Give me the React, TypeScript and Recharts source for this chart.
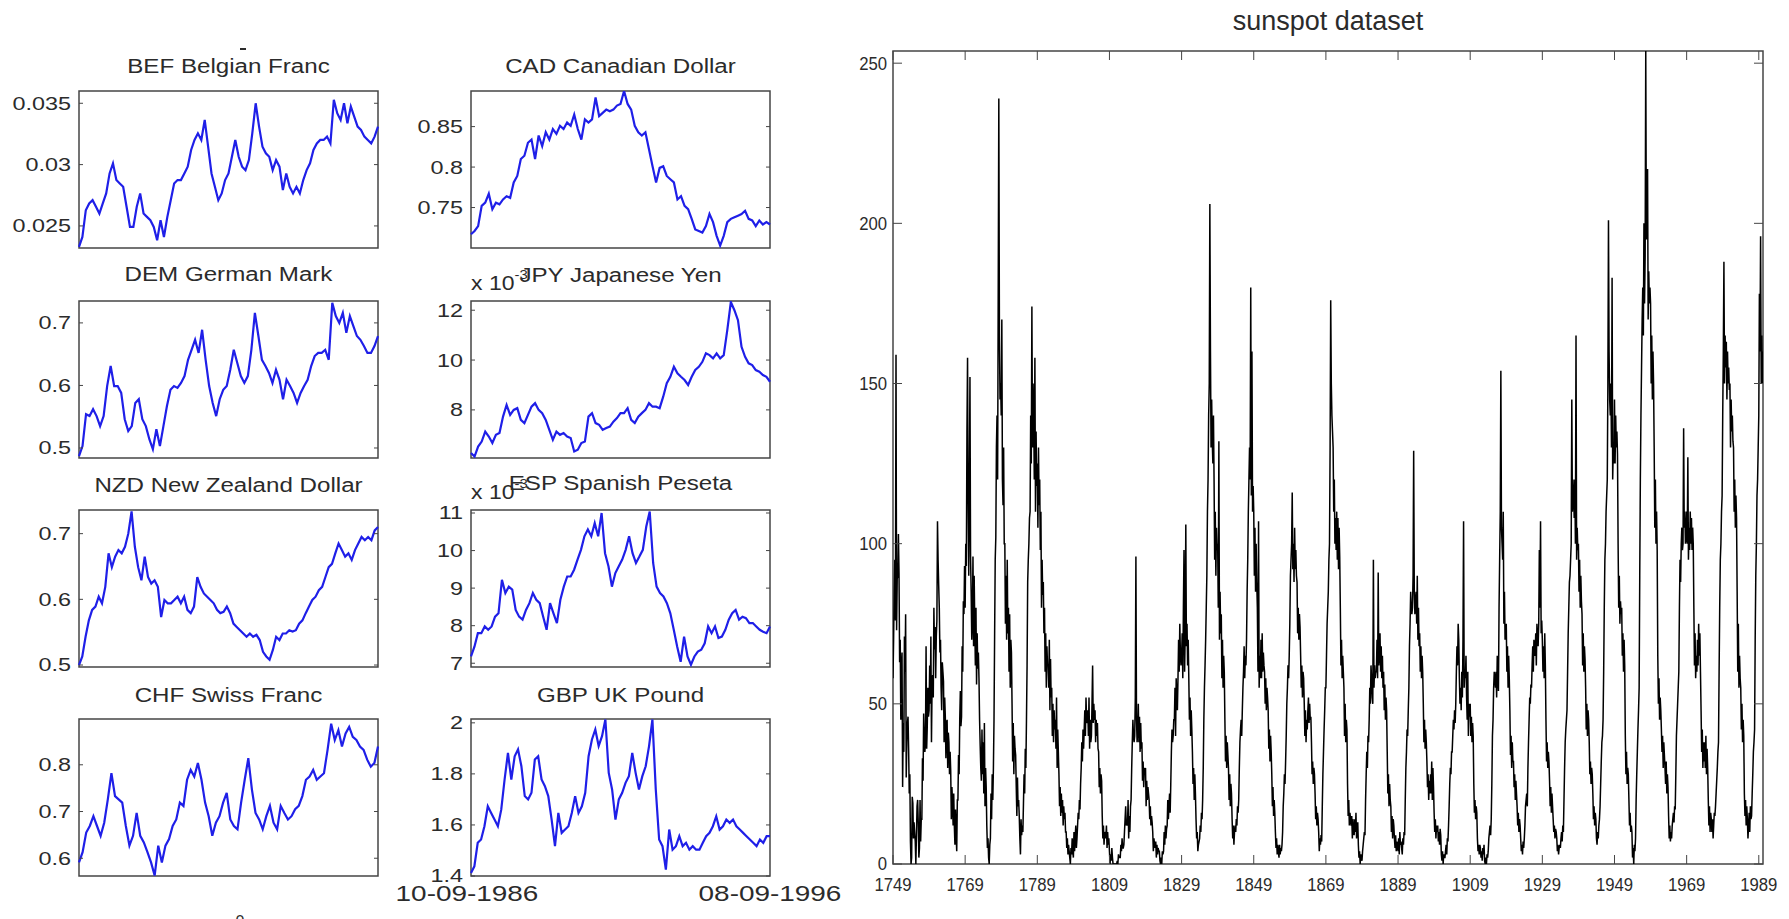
import React from "react";
import { LineChart, Line, XAxis, YAxis, ReferenceArea } from "recharts";

// Daily exchange rates against the US dollar, 10-09-1986 .. 08-09-1996,
// thinned to about one reading every five weeks.
const befRate = [
  0.02329, 0.0241, 0.02628, 0.02683, 0.0271, 0.02656, 0.02601, 0.02683, 0.02765, 0.02928,
  0.0301, 0.02874, 0.02846, 0.02819, 0.02656, 0.02492, 0.02492, 0.02656, 0.02765, 0.02601,
  0.02574, 0.02547, 0.02492, 0.02383, 0.02547, 0.0241, 0.02574, 0.0271, 0.02846, 0.02874,
  0.02874, 0.02928, 0.02983, 0.03119, 0.03201, 0.03255, 0.03201, 0.03364, 0.03146, 0.02928,
  0.02819, 0.0271, 0.02765, 0.02874, 0.02928, 0.03064, 0.03201, 0.03064, 0.02983, 0.02955,
  0.03037, 0.03255, 0.035, 0.0331, 0.03146, 0.03092, 0.03064, 0.02955, 0.03037, 0.02983,
  0.02792, 0.02928, 0.02819, 0.02765, 0.02819, 0.02765, 0.02874, 0.02955, 0.0301, 0.03119,
  0.03173, 0.03201, 0.03201, 0.03228, 0.03173, 0.03528, 0.03419, 0.03364, 0.035, 0.03337,
  0.03473, 0.03391, 0.0331, 0.03282, 0.03228, 0.03201, 0.03173, 0.03228, 0.0331,
];
const cadRate = [
  0.717, 0.721, 0.727, 0.752, 0.756, 0.767, 0.748, 0.756, 0.754, 0.76, 0.764, 0.762, 0.781,
  0.789, 0.81, 0.814, 0.83, 0.834, 0.81, 0.839, 0.826, 0.843, 0.834, 0.847, 0.841, 0.851,
  0.847, 0.855, 0.851, 0.865, 0.847, 0.834, 0.859, 0.855, 0.859, 0.886, 0.863, 0.867, 0.871,
  0.869, 0.871, 0.876, 0.878, 0.894, 0.878, 0.871, 0.851, 0.843, 0.839, 0.843, 0.822, 0.801,
  0.781, 0.799, 0.801, 0.789, 0.785, 0.781, 0.76, 0.764, 0.752, 0.748, 0.736, 0.723, 0.721,
  0.719, 0.727, 0.742, 0.732, 0.715, 0.703, 0.715, 0.732, 0.736, 0.738, 0.74, 0.742, 0.746,
  0.736, 0.734, 0.727, 0.734, 0.729, 0.732, 0.729,
];
const demRate = [
  0.487, 0.503, 0.554, 0.551, 0.562, 0.551, 0.535, 0.551, 0.599, 0.631, 0.599, 0.599, 0.588,
  0.546, 0.527, 0.535, 0.572, 0.578, 0.546, 0.535, 0.514, 0.498, 0.53, 0.503, 0.535, 0.567,
  0.593, 0.599, 0.596, 0.604, 0.615, 0.641, 0.657, 0.673, 0.652, 0.689, 0.641, 0.599, 0.572,
  0.551, 0.578, 0.593, 0.599, 0.625, 0.657, 0.636, 0.615, 0.604, 0.615, 0.657, 0.716, 0.679,
  0.641, 0.631, 0.62, 0.604, 0.625, 0.609, 0.578, 0.609, 0.599, 0.588, 0.572, 0.588, 0.599,
  0.609, 0.631, 0.647, 0.652, 0.652, 0.657, 0.641, 0.732, 0.711, 0.7, 0.716, 0.684, 0.711,
  0.695, 0.679, 0.673, 0.663, 0.652, 0.652, 0.663, 0.679,
];
// yen rate is shown in units of 1e-3
const jpyRateMilli = [
  6.27, 6.13, 6.53, 6.73, 7.13, 6.93, 6.67, 7.0, 7.07, 7.73, 8.2, 7.8, 8.0, 8.07, 7.6, 7.47,
  7.8, 8.13, 8.27, 8.0, 7.87, 7.6, 7.2, 6.8, 7.13, 7.0, 7.07, 6.93, 6.87, 6.33, 6.4, 6.67,
  6.73, 7.73, 7.87, 7.47, 7.4, 7.2, 7.27, 7.33, 7.53, 7.67, 7.87, 7.87, 8.07, 7.6, 7.47, 7.73,
  7.87, 8.0, 8.27, 8.13, 8.13, 8.07, 8.53, 9.07, 9.33, 9.73, 9.47, 9.33, 9.2, 9.0, 9.33, 9.6,
  9.73, 9.93, 10.27, 10.2, 10.07, 10.27, 10.07, 10.2, 11.2, 12.33, 12.0, 11.6, 10.53, 10.13,
  9.87, 9.8, 9.6, 9.53, 9.4, 9.33, 9.13,
];
const nzdRate = [
  0.5, 0.513, 0.543, 0.568, 0.584, 0.589, 0.604, 0.594, 0.619, 0.67, 0.649, 0.665, 0.675, 0.67,
  0.68, 0.7, 0.734, 0.68, 0.649, 0.629, 0.665, 0.634, 0.624, 0.629, 0.619, 0.573, 0.599, 0.594,
  0.594, 0.599, 0.604, 0.594, 0.604, 0.584, 0.579, 0.589, 0.634, 0.619, 0.609, 0.604, 0.599,
  0.594, 0.584, 0.579, 0.581, 0.589, 0.579, 0.563, 0.558, 0.553, 0.548, 0.543, 0.548, 0.543,
  0.546, 0.538, 0.52, 0.513, 0.508, 0.523, 0.543, 0.538, 0.548, 0.548, 0.553, 0.551, 0.553,
  0.563, 0.568, 0.579, 0.589, 0.599, 0.604, 0.614, 0.619, 0.634, 0.649, 0.654, 0.67, 0.685,
  0.675, 0.665, 0.67, 0.66, 0.675, 0.685, 0.695, 0.69, 0.695, 0.69, 0.705, 0.71,
];
// peseta rate is shown in units of 1e-3
const espRateMilli = [
  7.18, 7.44, 7.8, 7.8, 7.98, 7.89, 7.98, 8.24, 8.33, 9.22, 8.87, 9.04, 8.96, 8.42, 8.24, 8.16,
  8.42, 8.6, 8.87, 8.69, 8.6, 8.24, 7.89, 8.6, 8.33, 8.07, 8.69, 9.04, 9.31, 9.31, 9.49, 9.76,
  10.02, 10.38, 10.56, 10.38, 10.73, 10.38, 11.0, 9.93, 9.58, 9.04, 9.4, 9.58, 9.76, 10.02,
  10.38, 9.93, 9.67, 9.84, 10.02, 10.64, 11.04, 9.67, 9.04, 8.87, 8.78, 8.6, 8.33, 7.89, 7.44,
  7.04, 7.71, 7.18, 6.96, 7.18, 7.31, 7.36, 7.53, 7.98, 7.8, 7.98, 7.67, 7.71, 7.89, 8.16, 8.33,
  8.42, 8.16, 8.24, 8.2, 8.07, 8.07, 7.98, 7.89, 7.84, 7.8, 7.98,
];
const chfRate = [
  0.591, 0.613, 0.655, 0.669, 0.69, 0.669, 0.648, 0.676, 0.726, 0.782, 0.733, 0.726, 0.719,
  0.669, 0.627, 0.648, 0.697, 0.648, 0.634, 0.613, 0.591, 0.563, 0.627, 0.591, 0.627, 0.641,
  0.669, 0.683, 0.719, 0.712, 0.768, 0.789, 0.775, 0.804, 0.768, 0.719, 0.69, 0.648, 0.676,
  0.69, 0.719, 0.74, 0.683, 0.669, 0.662, 0.719, 0.768, 0.814, 0.747, 0.697, 0.683, 0.662,
  0.69, 0.712, 0.676, 0.662, 0.712, 0.697, 0.683, 0.69, 0.705, 0.712, 0.733, 0.768, 0.775,
  0.789, 0.768, 0.775, 0.782, 0.832, 0.888, 0.853, 0.874, 0.839, 0.867, 0.881, 0.86, 0.853,
  0.839, 0.832, 0.811, 0.796, 0.804, 0.839,
];
const gbpRate = [
  1.412, 1.438, 1.53, 1.543, 1.595, 1.673, 1.647, 1.621, 1.595, 1.66, 1.778, 1.882, 1.778,
  1.869, 1.896, 1.83, 1.713, 1.7, 1.726, 1.856, 1.869, 1.778, 1.752, 1.713, 1.621, 1.517,
  1.647, 1.569, 1.582, 1.595, 1.647, 1.713, 1.647, 1.673, 1.726, 1.869, 1.935, 1.974, 1.909,
  1.948, 2.013, 1.804, 1.739, 1.621, 1.7, 1.726, 1.765, 1.791, 1.882, 1.804, 1.739, 1.791,
  1.83, 1.909, 2.013, 1.739, 1.543, 1.517, 1.425, 1.582, 1.503, 1.517, 1.556, 1.517, 1.53,
  1.503, 1.517, 1.503, 1.503, 1.53, 1.556, 1.569, 1.595, 1.634, 1.582, 1.595, 1.621, 1.608,
  1.621, 1.595, 1.582, 1.569, 1.556, 1.543, 1.53, 1.517, 1.543, 1.53, 1.556, 1.556,
];

const befTicks = [0.025, 0.03, 0.035];
const cadTicks = [0.75, 0.8, 0.85];
const demTicks = [0.5, 0.6, 0.7];
const jpyTicks = [8, 10, 12];
const nzdTicks = [0.5, 0.6, 0.7];
const espTicks = [7, 8, 9, 10, 11];
const chfTicks = [0.6, 0.7, 0.8];
const gbpTicks = [1.4, 1.6, 1.8, 2];
const dateLabels = ["10-09-1986", "08-09-1996"];

// Monthly sunspot numbers, every second month, one row per year from 1749.
const sunspots1749 = [
  [58, 70, 85, 95, 76, 159], [73, 89, 90, 103, 91, 63], [70, 45, 61, 66, 24, 44],
  [35, 71, 60, 78, 27, 38], [44, 46, 36, 22, 28, 7], [0, 2, 21, 19, 8, 13],
  [10, 7, 0, 9, 18, 20], [13, 2, 5, 20, 7, 14], [14, 33, 26, 47, 40, 35],
  [38, 68, 36, 43, 55, 46], [48, 62, 50, 71, 38, 56], [59, 52, 80, 67, 74, 58],
  [71, 76, 107, 95, 87, 80], [66, 70, 55, 48, 63, 60], [57, 38, 52, 46, 33, 44],
  [45, 30, 41, 38, 28, 35], [29, 14, 24, 19, 12, 22], [12, 6, 17, 9, 4, 20],
  [20, 34, 28, 45, 54, 43], [46, 68, 60, 82, 78, 93], [80, 100, 93, 135, 158, 112],
  [90, 117, 152, 96, 85, 70], [76, 96, 68, 90, 75, 62], [80, 56, 72, 61, 66, 58],
  [45, 37, 30, 26, 42, 28], [38, 22, 44, 18, 30, 24], [12, 5, 8, 2, 0, 6],
  [8, 22, 14, 28, 20, 30], [45, 71, 95, 102, 130, 140], [120, 178, 239, 165, 145, 150],
  [140, 170, 120, 112, 130, 100], [100, 75, 90, 70, 95, 72], [80, 60, 78, 55, 70, 66],
  [50, 32, 44, 28, 40, 36], [34, 24, 15, 27, 18, 20], [15, 8, 3, 14, 9, 12],
  [10, 19, 28, 22, 36, 30], [45, 62, 88, 95, 100, 108], [110, 140, 125, 174, 130, 150],
  [140, 120, 158, 110, 135, 118], [125, 105, 130, 112, 120, 98],
];
const sunspots1790 = [
  [110, 80, 95, 84, 88, 72], [80, 60, 72, 55, 68, 62], [62, 55, 70, 48, 64, 52],
  [55, 40, 50, 38, 48, 42], [45, 36, 52, 30, 42, 35], [28, 18, 24, 15, 22, 16],
  [20, 12, 18, 14, 16, 10], [10, 5, 8, 3, 6, 4], [2, 0, 5, 3, 8, 4],
  [2, 10, 4, 8, 12, 5], [8, 12, 16, 14, 20, 17], [25, 30, 38, 32, 42, 36],
  [42, 48, 40, 52, 45, 44], [48, 40, 52, 36, 45, 38], [40, 50, 62, 44, 50, 45],
  [48, 38, 45, 40, 44, 36], [35, 24, 30, 22, 28, 26], [15, 8, 12, 6, 10, 9],
  [8, 12, 5, 10, 6, 8], [4, 0, 3, 1, 5, 2], [0, 0, 0, 0, 0, 0],
  [0, 1, 0, 3, 2, 2], [2, 6, 4, 8, 5, 5], [6, 10, 14, 18, 12, 13],
  [12, 20, 8, 15, 10, 18], [20, 30, 38, 45, 40, 38], [40, 52, 96, 45, 38, 42],
  [50, 38, 46, 35, 44, 36], [38, 26, 32, 24, 30, 28], [30, 18, 26, 20, 24, 22],
  [20, 14, 18, 12, 15, 13], [10, 4, 8, 6, 5, 7], [2, 6, 3, 5, 4, 4],
  [1, 0, 2, 0, 4, 3], [4, 10, 6, 12, 8, 11], [12, 20, 14, 18, 22, 16],
  [25, 35, 42, 38, 40, 45], [45, 55, 40, 58, 52, 48], [58, 70, 60, 75, 66, 62],
  [65, 72, 58, 80, 98, 60], [72, 106, 68, 75, 62, 70], [58, 45, 52, 40, 48, 42],
  [35, 25, 30, 20, 28, 22], [14, 8, 10, 4, 6, 7], [8, 12, 10, 16, 14, 20],
  [30, 45, 55, 62, 70, 80], [90, 110, 120, 140, 150, 206], [160, 130, 145, 132, 125, 140],
  [120, 95, 110, 90, 105, 98], [100, 80, 132, 70, 85, 72],
];
const sunspots1840 = [
  [78, 58, 70, 55, 65, 60], [45, 32, 40, 30, 38, 34], [30, 20, 28, 18, 25, 22],
  [14, 8, 12, 6, 10, 12], [10, 14, 12, 18, 16, 20], [30, 38, 42, 45, 40, 48],
  [55, 60, 68, 58, 65, 62], [70, 85, 95, 110, 120, 130], [120, 180, 115, 160, 110, 118],
  [110, 90, 105, 85, 100, 88], [80, 60, 107, 55, 65, 58], [70, 58, 72, 60, 66, 62],
  [60, 50, 58, 48, 55, 52], [48, 36, 42, 32, 40, 35], [28, 18, 24, 15, 20, 16],
  [10, 5, 8, 3, 6, 4], [2, 6, 3, 5, 4, 6], [10, 18, 22, 28, 25, 32],
  [40, 50, 55, 62, 58, 65], [75, 90, 95, 100, 116, 92], [100, 88, 105, 92, 98, 90],
  [88, 72, 80, 70, 78, 74], [65, 55, 62, 52, 60, 58], [50, 40, 48, 38, 45, 42],
  [48, 52, 44, 50, 45, 46], [38, 28, 32, 25, 30, 28], [22, 14, 18, 12, 16, 14],
  [10, 4, 8, 6, 9, 7], [18, 28, 35, 42, 48, 55], [55, 65, 75, 80, 85, 95],
  [100, 130, 176, 150, 140, 135], [130, 110, 120, 100, 108, 98], [110, 95, 108, 92, 105, 96],
  [80, 62, 70, 58, 65, 60], [55, 40, 50, 38, 45, 42], [25, 15, 20, 12, 16, 14],
  [12, 15, 8, 14, 10, 9], [14, 10, 16, 8, 12, 13], [6, 2, 4, 0, 3, 2],
  [1, 4, 6, 8, 10, 9], [20, 28, 35, 30, 40, 38], [45, 55, 50, 62, 58, 52],
  [50, 95, 55, 62, 58, 60], [60, 70, 58, 91, 62, 66], [72, 60, 68, 58, 65, 55],
  [60, 48, 56, 45, 52, 48], [35, 22, 28, 18, 25, 20], [18, 10, 15, 8, 14, 12],
  [8, 5, 9, 4, 7, 6], [4, 8, 3, 10, 6, 7],
];
const sunspots1890 = [
  [5, 3, 8, 6, 10, 9], [20, 30, 35, 42, 40, 48], [55, 68, 75, 85, 80, 78],
  [80, 90, 129, 85, 78, 82], [85, 75, 90, 70, 80, 68], [72, 60, 68, 58, 65, 60],
  [50, 38, 45, 36, 42, 38], [32, 24, 28, 20, 26, 22], [28, 22, 32, 20, 30, 24],
  [16, 10, 14, 8, 12, 10], [12, 7, 10, 6, 11, 9], [3, 1, 4, 0, 3, 2],
  [2, 4, 6, 3, 8, 7], [12, 18, 25, 30, 28, 35], [35, 40, 45, 42, 48, 44],
  [50, 60, 68, 62, 75, 70], [58, 50, 55, 48, 60, 52], [70, 107, 55, 60, 58, 65],
  [52, 45, 60, 40, 50, 46], [50, 40, 46, 38, 44, 40], [25, 16, 20, 14, 18, 16],
  [8, 4, 6, 3, 6, 5], [2, 4, 1, 5, 3, 6], [1, 0, 2, 0, 3, 2],
  [4, 8, 10, 12, 9, 14], [25, 40, 45, 55, 60, 58], [55, 60, 52, 65, 58, 54],
  [80, 95, 110, 154, 105, 100], [95, 110, 75, 85, 70, 72], [75, 60, 68, 55, 65, 58],
  [48, 34, 40, 30, 38, 32], [32, 24, 28, 20, 26, 22], [18, 12, 16, 10, 14, 12],
  [8, 4, 6, 3, 7, 5], [8, 12, 18, 20, 22, 18], [30, 38, 45, 52, 50, 56],
  [55, 62, 68, 60, 70, 66], [65, 72, 62, 75, 70, 68], [75, 98, 80, 107, 72, 76],
  [70, 60, 68, 58, 72, 62], [45, 32, 38, 30, 35, 32], [26, 18, 24, 16, 22, 18],
  [14, 10, 12, 8, 11, 10], [8, 4, 6, 3, 5, 6], [5, 8, 10, 7, 12, 10],
  [20, 30, 38, 42, 45, 48], [60, 72, 80, 88, 90, 95], [100, 145, 110, 120, 115, 108],
  [120, 100, 165, 95, 105, 98], [100, 85, 95, 80, 90, 82],
];
const sunspots1940 = [
  [78, 62, 72, 60, 68, 64], [55, 42, 50, 40, 48, 45], [38, 28, 32, 25, 30, 28],
  [22, 14, 18, 12, 16, 14], [8, 6, 10, 8, 12, 14], [18, 25, 32, 38, 40, 45],
  [60, 80, 95, 100, 110, 115], [120, 150, 201, 160, 145, 140], [150, 130, 183, 120, 130, 125],
  [145, 125, 140, 130, 135, 128], [100, 80, 90, 75, 82, 78], [80, 65, 72, 60, 70, 62],
  [40, 28, 35, 25, 30, 28], [20, 12, 16, 10, 12, 10], [2, 5, 0, 6, 4, 8],
  [20, 28, 35, 42, 48, 55], [90, 120, 140, 155, 170, 180], [165, 200, 175, 190, 254, 195],
  [200, 217, 170, 185, 175, 180], [175, 150, 165, 145, 160, 150], [130, 105, 120, 100, 110, 98],
  [65, 50, 58, 45, 52, 48], [42, 35, 40, 30, 38, 34], [30, 25, 32, 22, 28, 24],
  [15, 8, 12, 7, 10, 8], [12, 14, 16, 13, 18, 17], [28, 40, 45, 50, 55, 60],
  [80, 95, 88, 100, 105, 98], [100, 136, 105, 110, 100, 102], [110, 100, 127, 95, 105, 98],
  [110, 100, 108, 98, 105, 100], [80, 62, 72, 58, 65, 60], [70, 62, 75, 65, 72, 60],
  [48, 35, 42, 30, 38, 32], [38, 30, 40, 28, 36, 30], [20, 12, 18, 10, 16, 14],
  [10, 14, 8, 12, 16, 15], [18, 22, 26, 30, 35, 38], [60, 80, 95, 100, 110, 115],
  [140, 160, 188, 150, 165, 155], [163, 145, 160, 150, 155, 148], [150, 130, 145, 135, 140, 132],
  [130, 110, 120, 105, 115, 108], [85, 60, 75, 55, 65, 58], [55, 42, 50, 38, 45, 40],
  [22, 15, 20, 12, 18, 14], [8, 12, 16, 10, 18, 14], [15, 22, 28, 35, 38, 42],
  [70, 90, 100, 115, 120, 130], [140, 178, 160, 196, 150, 165], [150, 160],
];
const sunspotTicks = [0, 50, 100, 150, 200, 250];
const yearTicks = [1749, 1769, 1789, 1809, 1829, 1849, 1869, 1889, 1909, 1929, 1949, 1969, 1989];

const sunspotData = [
  ...sunspots1749,
  ...sunspots1790,
  ...sunspots1840,
  ...sunspots1890,
  ...sunspots1940,
].flatMap((row, yi) => row.map((v, k) => ({ t: 1749 + yi + k / 6, v })));
const sunspotEnd = sunspotData[sunspotData.length - 1].t;

const FONT = '"Liberation Sans", Arial, Helvetica, sans-serif';
const INK = "#2b2b2b";
const FRAME = "#454545";
const FX_BLUE = "#1f1fe8";

// currency panel geometry
const BOX_W = 299;
const BOX_H = 157;
const PAD_L = 72;
const PAD_V = 14;
const COL_X = [79, 471];
const ROW_Y = [91, 301, 510, 719];

type Panel = {
  title: string;
  values: number[];
  domain: [number, number];
  ticks: number[];
  col: number;
  row: number;
  titleY: number;
  exponent?: boolean;
};

const panels: Panel[] = [
  { title: "BEF Belgian Franc", values: befRate, domain: [0.0232, 0.036], ticks: befTicks, col: 0, row: 0, titleY: 66 },
  { title: "CAD Canadian Dollar", values: cadRate, domain: [0.7, 0.894], ticks: cadTicks, col: 1, row: 0, titleY: 66 },
  { title: "DEM German Mark", values: demRate, domain: [0.484, 0.735], ticks: demTicks, col: 0, row: 1, titleY: 274 },
  { title: "JPY Japanese Yen", values: jpyRateMilli, domain: [6.07, 12.37], ticks: jpyTicks, col: 1, row: 1, titleY: 275, exponent: true },
  { title: "NZD New Zealand Dollar", values: nzdRate, domain: [0.497, 0.736], ticks: nzdTicks, col: 0, row: 2, titleY: 485 },
  { title: "ESP Spanish Peseta", values: espRateMilli, domain: [6.9, 11.08], ticks: espTicks, col: 1, row: 2, titleY: 483, exponent: true },
  { title: "CHF Swiss Franc", values: chfRate, domain: [0.562, 0.898], ticks: chfTicks, col: 0, row: 3, titleY: 695 },
  { title: "GBP UK Pound", values: gbpRate, domain: [1.4, 2.015], ticks: gbpTicks, col: 1, row: 3, titleY: 695 },
];

function Label({ x, y, size, sx = 1, anchor = "middle", children }: any) {
  return (
    <text
      transform={`translate(${x},${y}) scale(${sx},1)`}
      textAnchor={anchor}
      dominantBaseline="central"
      fontSize={size}
      fontFamily={FONT}
      fill={INK}
    >
      {children}
    </text>
  );
}

function CurrencyPanel({ p }: { p: Panel }) {
  const data = p.values.map((v, i) => ({ i, v }));
  const last = p.values.length - 1;
  const left = COL_X[p.col];
  const top = ROW_Y[p.row];

  const renderTick = (props: any) => {
    const { y, payload } = props;
    return (
      <g>
        <line x1={PAD_L} x2={PAD_L + 4} y1={y} y2={y} stroke={FRAME} />
        <line x1={PAD_L + BOX_W - 4} x2={PAD_L + BOX_W} y1={y} y2={y} stroke={FRAME} />
        <Label x={PAD_L - 8} y={y} size={18} sx={1.3} anchor="end">
          {String(payload.value)}
        </Label>
      </g>
    );
  };

  return (
    <div style={{ position: "absolute", left: left - PAD_L, top: top - PAD_V }}>
      <LineChart
        width={PAD_L + BOX_W + 6}
        height={BOX_H + 2 * PAD_V}
        data={data}
        margin={{ top: PAD_V, right: 6, bottom: PAD_V, left: 0 }}
      >
        <XAxis dataKey="i" type="number" domain={[0, last]} hide />
        <YAxis
          type="number"
          domain={p.domain}
          ticks={p.ticks}
          interval={0}
          width={PAD_L}
          axisLine={false}
          tickLine={false}
          tick={renderTick}
          allowDataOverflow
        />
        <Line
          type="linear"
          dataKey="v"
          stroke={FX_BLUE}
          strokeWidth={2.2}
          dot={false}
          isAnimationActive={false}
        />
        <ReferenceArea
          x1={0}
          x2={last}
          y1={p.domain[0]}
          y2={p.domain[1]}
          fill="none"
          stroke={FRAME}
          strokeWidth={1.5}
          ifOverflow="visible"
        />
      </LineChart>
    </div>
  );
}

// sunspot panel geometry
const SS_LEFT = 893;
const SS_TOP = 51;
const SS_W = 870;
const SS_H = 813;
const SS_PAD_L = 64;
const SS_PAD_B = 44;
const SS_MAX = 253.8;

function SunspotChart() {
  const plotTop = 10;
  const plotBottom = plotTop + SS_H;

  const xTick = (props: any) => {
    const { x, payload } = props;
    return (
      <g>
        <line x1={x} x2={x} y1={plotBottom} y2={plotBottom - 9} stroke={FRAME} />
        <line x1={x} x2={x} y1={plotTop} y2={plotTop + 9} stroke={FRAME} />
        <Label x={x} y={plotBottom + 21} size={19} sx={0.88}>
          {payload.value}
        </Label>
      </g>
    );
  };

  const yTick = (props: any) => {
    const { y, payload } = props;
    return (
      <g>
        <line x1={SS_PAD_L} x2={SS_PAD_L + 9} y1={y} y2={y} stroke={FRAME} />
        <line x1={SS_PAD_L + SS_W - 9} x2={SS_PAD_L + SS_W} y1={y} y2={y} stroke={FRAME} />
        <Label x={SS_PAD_L - 6} y={y} size={19} sx={0.88} anchor="end">
          {payload.value}
        </Label>
      </g>
    );
  };

  return (
    <div style={{ position: "absolute", left: SS_LEFT - SS_PAD_L, top: SS_TOP - plotTop }}>
      <LineChart
        width={SS_PAD_L + SS_W + 16}
        height={plotTop + SS_H + SS_PAD_B}
        data={sunspotData}
        margin={{ top: plotTop, right: 16, bottom: 0, left: 0 }}
      >
        <XAxis
          dataKey="t"
          type="number"
          domain={[1749, sunspotEnd]}
          ticks={yearTicks}
          interval={0}
          height={SS_PAD_B}
          axisLine={false}
          tickLine={false}
          tick={xTick}
          allowDataOverflow
        />
        <YAxis
          type="number"
          domain={[0, SS_MAX]}
          ticks={sunspotTicks}
          interval={0}
          width={SS_PAD_L}
          axisLine={false}
          tickLine={false}
          tick={yTick}
          allowDataOverflow
        />
        <Line
          type="linear"
          dataKey="v"
          stroke="#000"
          strokeWidth={1.5}
          dot={false}
          isAnimationActive={false}
        />
        <ReferenceArea
          x1={1749}
          x2={sunspotEnd}
          y1={0}
          y2={SS_MAX}
          fill="none"
          stroke={FRAME}
          strokeWidth={1.5}
          ifOverflow="visible"
        />
      </LineChart>
    </div>
  );
}

export default function App() {
  return (
    <div
      style={{
        position: "absolute",
        left: 0,
        top: 0,
        width: 1789,
        height: 919,
        background: "#fff",
        overflow: "hidden",
        fontFamily: FONT,
      }}
    >
      {panels.map((p) => (
        <CurrencyPanel key={p.title} p={p} />
      ))}
      <SunspotChart />
      <svg
        width={1789}
        height={919}
        style={{ position: "absolute", left: 0, top: 0, pointerEvents: "none" }}
      >
        {panels
          .filter((p) => p.exponent)
          .map((p) => (
            <text
              key={p.title + "-exp"}
              transform={`translate(${COL_X[p.col]},${ROW_Y[p.row] - 11}) scale(1.15,1)`}
              fontSize={20}
              fontFamily={FONT}
              fill={INK}
            >
              x 10
              <tspan dy={-11} fontSize={13}>
                -3
              </tspan>
            </text>
          ))}
        {panels.map((p) => (
          <Label key={p.title} x={COL_X[p.col] + BOX_W / 2} y={p.titleY} size={21} sx={1.15}>
            {p.title}
          </Label>
        ))}
        <Label x={COL_X[1] - 4} y={893} size={22} sx={1.27}>
          {dateLabels[0]}
        </Label>
        <Label x={COL_X[1] + BOX_W} y={893} size={22} sx={1.27}>
          {dateLabels[1]}
        </Label>
        <Label x={SS_LEFT + SS_W / 2} y={21} size={27}>
          sunspot dataset
        </Label>
        <line x1={240} x2={246} y1={49} y2={49} stroke={INK} strokeWidth={2} />
        <Label x={240} y={921} size={16}>
          0
        </Label>
      </svg>
    </div>
  );
}
